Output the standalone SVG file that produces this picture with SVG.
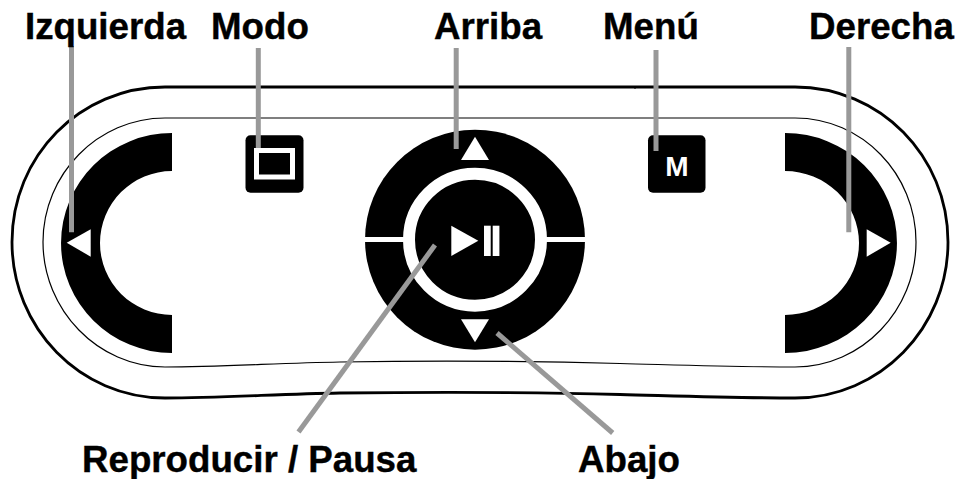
<svg xmlns="http://www.w3.org/2000/svg" width="957" height="479" viewBox="0 0 957 479">
<style>
.lbl{font-family:"Liberation Sans",Arial,sans-serif;font-weight:700;font-size:36.700px;fill:#000;stroke:#000;stroke-width:.4}
.shell{fill:none;stroke:#000}
.blk{fill:#000}
.wht{fill:#fff}
.lead{fill:none;stroke:#999;stroke-width:5}
</style>
<rect width="957" height="479" fill="#fff"/>
<g id="body">
<path class="shell" stroke-width="2.800" d="M165 87H795C880 87 948 156 948 242C948 328 880 398 795 398C740 398 680 396 620 394.500C530 392 430 392 340 393C280 394 220 398 165 398C80 398 12 328 12 242C12 156 80 87 165 87Z"/>
<path class="shell" stroke-width="1.200" d="M165 118H795C862 118 916 174 916 242C916 310 862 367 795 367C740 367 680 365 620 363.500C530 361 430 360.500 340 362C280 363 220 367 165 367C98 367 43 310 43 242C43 174 98 118 165 118Z"/>
<path class="shell" stroke-width="1" d="M635 87V89"/>
</g>
<g id="btn-left">
<path class="blk" d="M172 133V171A72 72 0 0 0 172 315V353A111 110 0 0 1 172 133Z"/>
<path class="wht" d="M66.700 242.700L90.700 229.300V256.700Z"/>
</g>
<g id="btn-right">
<path class="blk" d="M785 133V171A74 72 0 0 1 785 315V353A112 110 0 0 0 785 133Z"/>
<path class="wht" d="M890.700 242.700L866.700 229.300V256.700Z"/>
</g>
<g id="btn-mode">
<rect class="blk" x="245.500" y="135.300" width="58" height="57.500" rx="5"/>
<rect x="256.500" y="150.500" width="36" height="26.500" fill="none" stroke="#fff" stroke-width="5"/>
</g>
<g id="btn-menu">
<rect class="blk" x="648" y="135.300" width="57.500" height="57.500" rx="5"/>
<text x="677" y="175.700" text-anchor="middle" font-family="Liberation Sans, Arial, sans-serif" font-weight="700" font-size="28" fill="#fff">M</text>
</g>
<g id="btn-wheel">
<circle class="blk" cx="475" cy="239.700" r="110"/>
<rect class="wht" x="365" y="237" width="220" height="5"/>
<circle class="blk" cx="475" cy="239.700" r="66" stroke="#fff" stroke-width="12"/>
<path class="wht" d="M475 136.700L461 160H489Z"/>
<path class="wht" d="M461 319.300H489L475 342.300Z"/>
<path class="wht" d="M451.300 225.700V256L478.300 240.700Z"/>
<rect class="wht" x="484" y="225.700" width="6.700" height="30.300"/>
<rect class="wht" x="492.700" y="225.700" width="6.700" height="30.300"/>
</g>
<g id="connectors">
<path class="lead" d="M71.500 46V232.300"/>
<path class="lead" d="M258.300 48V148"/>
<path class="lead" d="M456.200 48V149"/>
<path class="lead" d="M656 50V151"/>
<path class="lead" d="M848.800 47V232.300"/>
<path class="lead" d="M435 245L298.500 432"/>
<path class="lead" d="M497 333L612.700 433"/>
</g>
<g id="labels">
<text class="lbl" x="25" y="39">Izquierda</text>
<text class="lbl" x="211" y="39">Modo</text>
<text class="lbl" x="434" y="39">Arriba</text>
<text class="lbl" x="603" y="39">Menú</text>
<text class="lbl" x="809" y="39">Derecha</text>
<text class="lbl" x="82" y="472">Reproducir / Pausa</text>
<text class="lbl" x="578" y="472">Abajo</text>
</g>
</svg>
